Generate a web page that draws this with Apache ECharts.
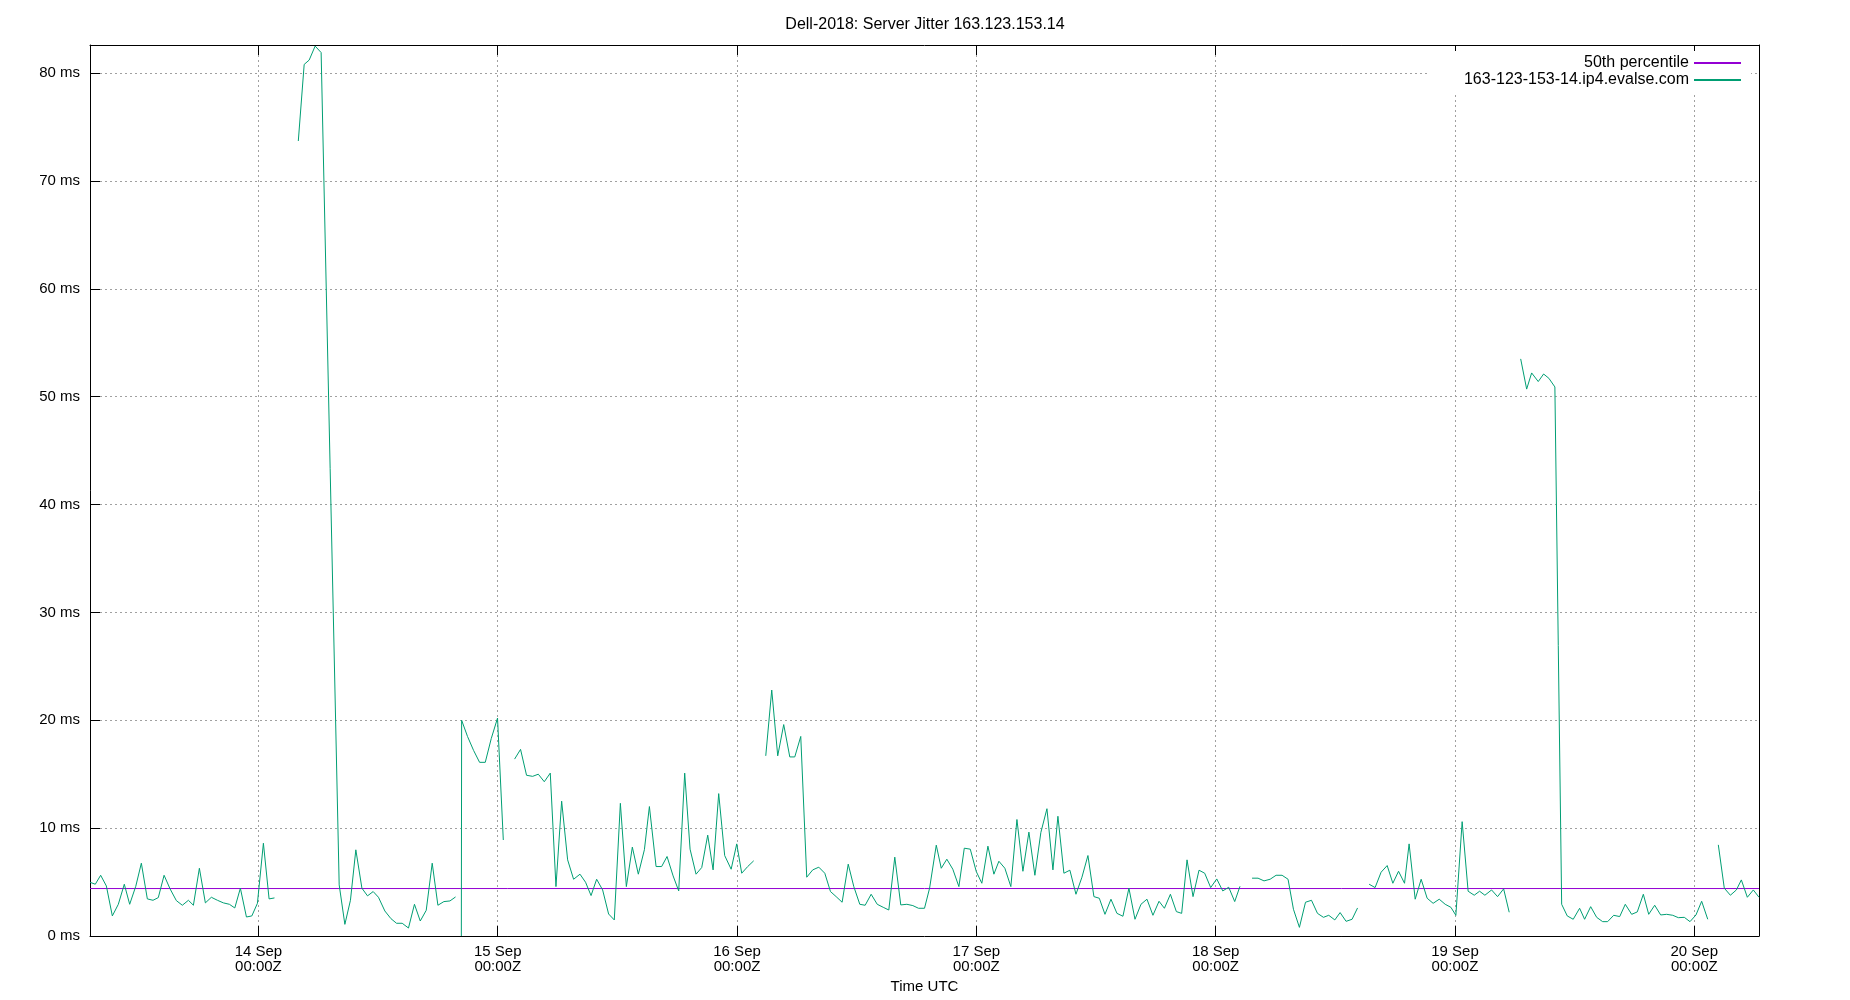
<!DOCTYPE html>
<html>
<head>
<meta charset="utf-8">
<title>Dell-2018: Server Jitter 163.123.153.14</title>
<script src="https://cdn.jsdelivr.net/npm/echarts@6/dist/echarts.min.js"></script>
<style>
  html, body { margin: 0; padding: 0; background: #fff; }
  #chart { width: 1850px; height: 1000px; }
</style>
</head>
<body>
<div id="chart"></div>
<script>
// sample times, hours after 13 Sep 2018 00:00 UTC (null = gap in the line)
let hours = [
  7.11, 7.64, 8.18, 8.75, 9.35, 9.95, 10.55, 11.09, 11.70, 12.26, 12.86, 13.43, 13.96, 14.54, 15.14, 15.77, 16.37,
  16.98, 17.48, 18.08, 18.68, 19.28, 19.89, 20.49, 21.09, 21.63, 22.19, 22.80, 23.34, 23.90, 24.50, 25.07, 25.61, null,
  28.00, 28.59, 29.09, 29.69, 30.29, 32.10, 32.67, 33.23, 33.77, 34.38, 34.94, 35.51, 36.04, 36.68, 37.29, 37.85,
  38.42, 39.05, 39.65, 40.23, 40.83, 41.43, 42.00, 42.60, 43.21, 43.77, null,
  44.35, 44.38, 44.97, 45.58, 46.18, 46.75, 47.35, 47.98, 48.56, null,
  49.69, 50.29, 50.89, 51.50, 52.07, 52.67, 53.27, 53.84, 54.41, 55.01, 55.61, 56.25, 56.81, 57.36, 57.92, 58.52,
  59.12, 59.69, 60.30, 60.90, 61.50, 62.10, 62.71, 63.21, 63.88, 64.44, 64.98, 65.59, 66.15, 66.75, 67.29, 67.89,
  68.46, 69.06, 69.60, 70.16, 70.76, 71.41, 71.97, 72.47, 73.07, 73.67, null,
  74.88, 75.48, 76.08, 76.68, 77.29, 77.79, 78.39, 78.99, 79.59, 80.20, 80.80, 81.37, 81.94, 82.54, 83.15, 83.71,
  84.31, 84.85, 85.45, 86.06, 86.66, 87.22, 87.82, 88.42, 89.03, 89.63, 90.20, 90.80, 91.31, 91.98, 92.48, 93.04,
  93.64, 94.25, 94.79, 95.39, 95.99, 96.55, 97.16, 97.76, 98.26, 98.86, 99.46, 100.07, 100.67, 101.27, 101.87, 102.47,
  103.08, 103.68, 104.18, 104.78, 105.38, 105.99, 106.59, 107.19, 107.79, 108.33, 108.90, 109.50, 110.10, 110.70,
  111.30, 111.91, 112.51, 113.11, 113.71, 114.32, 114.86, 115.46, 116.06, 116.59, 117.13, 117.73, 118.33, 118.90,
  119.50, 120.11, 120.71, 121.31, 121.91, 122.44, null,
  123.65, 124.25, 124.85, 125.46, 126.06, 126.66, 127.26, 127.80, 128.40, 129.01, 129.61, 130.21, 130.81, 131.34,
  131.95, 132.48, 133.08, 133.68, 134.23, null,
  135.39, 135.99, 136.59, 137.20, 137.77, 138.34, 138.94, 139.40, 140.01, 140.61, 141.21, 141.81, 142.42, 143.02,
  143.59, 144.09, 144.72, 145.32, 145.93, 146.47, 147.00, 147.67, 148.27, 148.88, 149.44, null,
  150.59, 151.19, 151.69, 152.35, 152.89, 153.42, 154.02, 154.70, 155.26, 155.86, 156.50, 157.00, 157.61, 158.21,
  158.81, 159.31, 159.92, 160.52, 161.08, 161.72, 162.28, 162.89, 163.43, 164.03, 164.63, 165.23, 165.84, 166.40,
  167.00, 167.57, 168.17, 168.74, 169.35, null,
  170.41, 171.01, 171.62, 172.22, 172.72, 173.32, 173.92, 174.49
];

// jitter in ms, same order as hours
let jitter = [
  4.98, 4.8, 5.63, 4.64, 1.86, 2.94, 4.8, 2.94, 4.61, 6.75, 3.44, 3.31, 3.56, 5.63, 4.37, 3.28, 2.85,
  3.31, 2.85, 6.28, 3.07, 3.59, 3.31, 3.07, 2.94, 2.6, 4.43, 1.76, 1.86, 3.03, 8.6, 3.44, 3.53, null,
  73.7, 80.8, 81.2, 82.5, 81.9, 4.74, 1.08, 3.31, 7.99, 4.43, 3.72, 4.12, 3.59, 2.32, 1.61, 1.18,
  1.18, 0.74, 2.94, 1.39, 2.38, 6.75, 2.85, 3.19, 3.25, 3.62, null,
  0, 20.0, 18.5, 17.2, 16.1, 16.1, 18.3, 20.2, 8.9, null,
  16.4, 17.3, 14.9, 14.8, 15.0, 14.3, 15.1, 4.58, 12.5, 7.06, 5.26, 5.73, 4.98, 3.75, 5.26, 4.27,
  2.04, 1.49, 12.3, 4.58, 8.24, 5.73, 8.0, 12.0, 6.44, 6.44, 7.37, 5.57, 4.18, 15.1, 8.05, 5.73,
  6.35, 9.35, 6.13, 13.2, 7.46, 6.19, 8.54, 5.82, 6.44, 6.97, null,
  16.7, 22.8, 16.7, 19.6, 16.6, 16.6, 18.5, 5.45, 6.13, 6.38, 5.82, 4.12, 3.65, 3.13, 6.66, 4.58,
  2.94, 2.85, 3.87, 2.94, 2.66, 2.41, 7.31, 2.88, 2.94, 2.82, 2.57, 2.57, 4.43, 8.42, 6.28, 7.12,
  6.19, 4.58, 8.14, 8.05, 5.98, 4.89, 8.33, 5.73, 6.93, 6.28, 4.58, 10.8, 6.0, 9.63, 5.63, 9.6,
  11.8, 6.13, 11.1, 5.82, 6.1, 3.87, 5.45, 7.46, 3.65, 3.5, 2.01, 3.41, 2.1, 1.83,
  4.43, 1.55, 2.94, 3.41, 1.92, 3.22, 2.57, 3.87, 2.26, 2.1, 7.06, 3.65, 6.1, 5.82,
  4.49, 5.29, 4.18, 4.52, 3.19, 4.61, null,
  5.36, 5.36, 5.11, 5.26, 5.63, 5.63, 5.26, 2.48, 0.8, 3.13, 3.31, 2.1, 1.73, 1.92,
  1.49, 2.17, 1.36, 1.55, 2.6, null,
  4.8, 4.49, 5.91, 6.53, 4.89, 6.0, 4.89, 8.54, 3.41, 5.26, 3.5, 3.03, 3.41, 2.94,
  2.66, 1.92, 10.6, 4.15, 3.78, 4.15, 3.78, 4.27, 3.65, 4.37, 2.2, null,
  53.5, 50.7, 52.2, 51.4, 52.1, 51.7, 50.9, 2.94, 1.86, 1.55, 2.57, 1.55, 2.72, 1.73,
  1.33, 1.33, 1.92, 1.8, 2.94, 2.01, 2.23, 3.87, 2.01, 2.85, 1.95, 2.01, 1.92, 1.7,
  1.73, 1.33, 1.95, 3.22, 1.55, null,
  8.45, 4.43, 3.78, 4.27, 5.2, 3.59, 4.27, 3.59
];

let median50 = 4.40;
let yMax = 82.6;
let seriesNames = ['50th percentile', '163-123-153-14.ip4.evalse.com'];
let monthNames = ['Jan', 'Feb', 'Mar', 'Apr', 'May', 'Jun', 'Jul', 'Aug', 'Sep', 'Oct', 'Nov', 'Dec'];

const FONT = '"Liberation Sans", Arial, sans-serif';
const DAY = 24 * 3600 * 1000;
const startDay = Date.UTC(2018, 8, 13);

// build [time, value] pairs, a null value breaks the line
let points = [];
let lastT = null;
hours.forEach((h, i) => {
  if (h === null) {
    points.push([lastT, null]);
    return;
  }
  lastT = startDay + h * 3600 * 1000;
  points.push([lastT, jitter[i]]);
});
let tMin = startDay + hours[0] * 3600 * 1000;
let tMax = lastT;

let gridLine = {show: true, lineStyle: {color: '#a0a0a0', type: [2, 3], width: 1}};

// only midnight ticks get a label
let dayLabel = (val) => {
  let d = new Date(val);
  if (d.getUTCHours() !== 0 || d.getUTCMinutes() !== 0) return '';
  return d.getUTCDate() + ' ' + monthNames[d.getUTCMonth()] + '\n00:00Z';
};

let myChart = echarts.init(document.getElementById('chart'));
let option = {
  animation: false,
  useUTC: true,
  backgroundColor: '#fff',
  textStyle: {fontFamily: FONT},
  title: {
    text: 'Dell-2018: Server Jitter 163.123.153.14',
    left: 'center',
    top: 12,
    textStyle: {fontFamily: FONT, fontSize: 16, fontWeight: 'normal', color: '#000'}
  },
  legend: {
    orient: 'vertical',
    align: 'right',
    right: 99,
    top: 51,
    itemWidth: 47,
    itemHeight: 14,
    itemGap: 1,
    padding: [4, 9, 4, 36],
    backgroundColor: '#fff',
    selectedMode: false,
    itemStyle: {opacity: 0},
    textStyle: {fontFamily: FONT, fontSize: 16, lineHeight: 14, color: '#000'},
    data: seriesNames
  },
  grid: {left: 90, right: 91, top: 45, bottom: 64, containLabel: false},
  xAxis: [{
    type: 'time',
    position: 'bottom',
    min: tMin,
    max: tMax,
    minInterval: DAY,
    maxInterval: DAY,
    name: 'Time UTC',
    nameLocation: 'middle',
    nameGap: 43,
    nameTextStyle: {fontFamily: FONT, fontSize: 15, color: '#000'},
    axisLine: {show: true, onZero: false, lineStyle: {color: '#000', width: 1}},
    axisTick: {show: true, inside: true, length: 10, lineStyle: {color: '#000'}},
    axisLabel: {
      formatter: dayLabel, fontFamily: FONT, fontSize: 15, lineHeight: 15,
      color: '#000', margin: 8, hideOverlap: false
    },
    splitLine: gridLine
  }, {
    type: 'time',
    position: 'top',
    min: tMin,
    max: tMax,
    minInterval: DAY,
    maxInterval: DAY,
    axisLine: {show: true, onZero: false, lineStyle: {color: '#000', width: 1}},
    axisTick: {show: true, inside: true, length: 10, lineStyle: {color: '#000'}},
    axisLabel: {show: false},
    splitLine: {show: false}
  }],
  yAxis: [{
    type: 'value',
    position: 'left',
    min: 0,
    max: yMax,
    interval: 10,
    axisLine: {show: true, onZero: false, lineStyle: {color: '#000', width: 1}},
    axisTick: {show: true, inside: true, length: 10, lineStyle: {color: '#000'}},
    axisLabel: {
      formatter: (v) => (Math.abs(v % 10) < 1e-6 ? v + ' ms' : ''),
      fontFamily: FONT, fontSize: 15, color: '#000', margin: 10
    },
    splitLine: gridLine
  }, {
    type: 'value',
    position: 'right',
    min: 0,
    max: yMax,
    interval: 10,
    axisLine: {show: true, onZero: false, lineStyle: {color: '#000', width: 1}},
    axisTick: {show: false},
    axisLabel: {show: false},
    splitLine: {show: false}
  }],
  series: [{
    name: seriesNames[0],
    type: 'line',
    xAxisIndex: 0,
    yAxisIndex: 0,
    data: [[tMin, median50], [tMax, median50]],
    symbol: 'none',
    lineStyle: {color: '#9400d3', width: 1},
    itemStyle: {color: '#9400d3'},
    z: 2
  }, {
    name: seriesNames[1],
    type: 'line',
    xAxisIndex: 0,
    yAxisIndex: 0,
    data: points,
    symbol: 'none',
    showSymbol: false,
    connectNulls: false,
    lineStyle: {color: '#009e73', width: 1},
    itemStyle: {color: '#009e73'},
    z: 3
  }]
};
myChart.setOption(option);
</script>
</body>
</html>
